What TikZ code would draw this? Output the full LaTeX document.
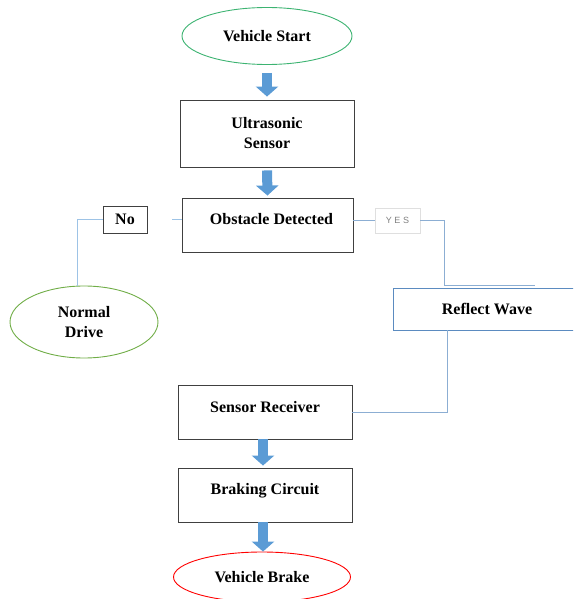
\documentclass[tikz,border=0pt]{standalone}
\usepackage{fontspec}
\setmainfont{Liberation Serif}
\newfontfamily\yesfont[LetterSpace=30]{Liberation Sans}
\usetikzlibrary{shapes.geometric,arrows.meta}
\definecolor{arrowblue}{HTML}{5B9BD5}
\definecolor{boxgray}{HTML}{404040}
\definecolor{startgreen}{HTML}{3CB371}
\definecolor{ndgreen}{HTML}{70AD47}
\definecolor{linkblue}{HTML}{9DC3E6}
\definecolor{rwblue}{HTML}{5B8BC0}
\begin{document}
\begin{tikzpicture}[x=1pt,y=-1pt,
  txt/.style={font=\fontsize{16}{20}\selectfont\bfseries, align=center},
  box/.style={txt, draw=boxgray, line width=0.9pt, inner sep=0pt, rectangle},
  oval/.style={txt, ellipse, line width=0.9pt, inner sep=0pt},
  link/.style={draw=linkblue, line width=0.9pt},
  blockarrow/.style={draw=arrowblue, line width=10pt, -{Triangle[width=22pt,length=10pt]}}]
\useasboundingbox (0,0) rectangle (573,599);
\clip (0,0) rectangle (573,599);

\node[oval, draw=startgreen, minimum width=170pt, minimum height=57pt] (start) at (267,36) {Vehicle Start};
\node[box, minimum width=174pt, minimum height=67pt] (us) at (267,133.5) {Ultrasonic\\Sensor};
\node[box, minimum width=171pt, text height=26pt, text depth=28pt] (obs) at (267.5,225) {\hspace*{8pt}Obstacle Detected};
\node[box, minimum width=44pt, minimum height=27pt] (no) at (125,219.5) {No};
\node[oval, draw=ndgreen, minimum width=148pt, minimum height=72pt] (nd) at (84,322) {Normal\\Drive};
\node[draw=gray!25, line width=0.9pt, minimum width=45pt, minimum height=25pt, inner sep=0pt, text=gray, font=\yesfont\fontsize{9}{10}\selectfont] (yes) at (397.5,220.5) {YES};
\node[box, draw=rwblue, minimum width=182pt, minimum height=42pt] (rw) at (484,309) {\hspace*{6pt}Reflect Wave};
\node[box, minimum width=174pt, text height=27pt, text depth=27pt] (sr) at (265,412) {Sensor Receiver};
\node[box, minimum width=174pt, text height=26pt, text depth=28pt] (bc) at (265,495) {Braking Circuit};
\node[oval, draw=red, minimum width=177pt, minimum height=50pt] (vb) at (262,577) {Vehicle Brake};

% block arrows
\draw[blockarrow, shorten <=8pt, shorten >=3pt] (start.south) -- (us.north);
\draw[blockarrow, shorten <=3pt, shorten >=2pt] (us.south) -- (obs.north);
\draw[blockarrow, shorten <=0pt, shorten >=2pt] ([xshift=-2pt]sr.south) -- ([xshift=-2pt]bc.north);
\draw[blockarrow, shorten <=0pt, shorten >=0pt] ([xshift=-2pt]bc.south) -- ([xshift=-2pt]bc.south |- vb.north);

% connectors
\coordinate (stub) at (172,219);
\draw[link] (stub) -- (obs.west |- stub);
\draw[link] (no.west) -| ([xshift=-7pt]nd.north);
\draw[link, draw=rwblue!70] (obs.east |- yes.west) -- (yes.west);
\coordinate (k1) at (444,285);
\coordinate (k2) at (535,285);
\draw[link, draw=rwblue!70] (yes.east) -| (k1) -- (k2);
\draw[link, draw=rwblue!70] ([xshift=-37pt]rw.south) |- (sr.east);
\end{tikzpicture}
\end{document}
